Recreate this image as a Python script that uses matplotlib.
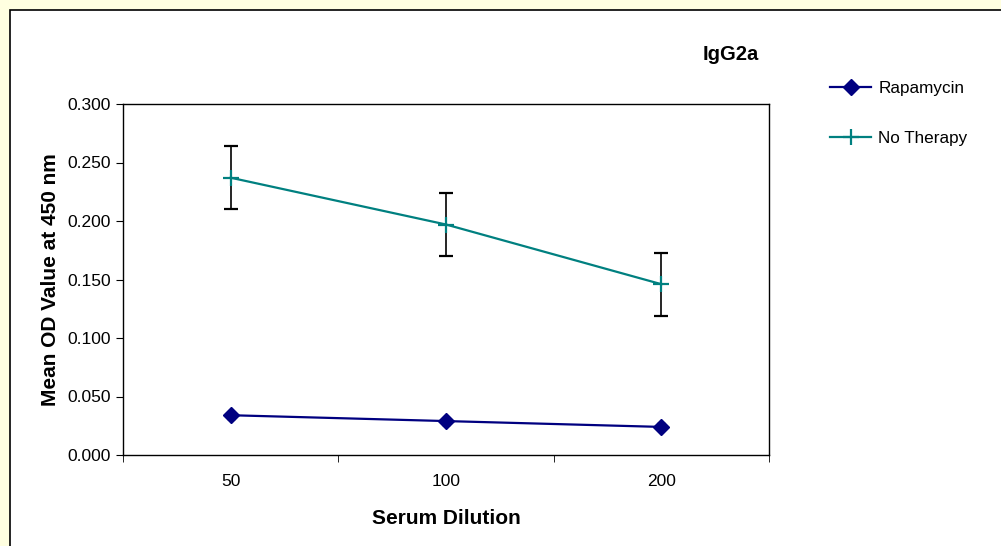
import numpy as np
import matplotlib
matplotlib.use("Agg")
import matplotlib.pyplot as plt
from matplotlib.patches import Rectangle

plt.rcParams['font.family'] = ['Liberation Sans', 'DejaVu Sans']

# data
dilutions = ['50', '100', '200']
rapamycin = [0.034, 0.029, 0.024]
rapamycin_err = [0.003, 0.003, 0.003]
no_therapy = [0.237, 0.197, 0.146]
no_therapy_err = [0.027, 0.027, 0.027]

fig = plt.figure(figsize=(10.01, 5.46), dpi=100)
fig.patch.set_facecolor('#FFFFE0')

# white chart area with black border
bg = Rectangle((10 / 1001, -0.1), 1.1, 1.1 - 10 / 546, transform=fig.transFigure,
               facecolor='white', edgecolor='black', linewidth=1.2, zorder=-5)
fig.patches.append(bg)

ax = fig.add_axes([123 / 1001, 1 - 455 / 546, 646 / 1001, 351 / 546])
ax.set_facecolor('white')
x = np.arange(len(dilutions))

ax.errorbar(x, rapamycin, yerr=rapamycin_err, color='#000080', marker='D',
            markersize=8.5, linewidth=1.6, ecolor='black', elinewidth=1.2,
            capsize=3, label='Rapamycin', zorder=3)
ax.errorbar(x, no_therapy, yerr=no_therapy_err, color='#008080', marker='+',
            markersize=11, markeredgewidth=1.6, linewidth=1.6, ecolor='black',
            elinewidth=1.2, capsize=5, label='No Therapy', zorder=3)

ax.set_xlim(-0.5, 2.5)
ax.set_ylim(0, 0.3)
ax.set_yticks(np.arange(0, 0.301, 0.05))
ax.set_yticklabels(['%.3f' % v for v in np.arange(0, 0.301, 0.05)])
ax.set_xticks(x)
ax.set_xticklabels(dilutions)
ax.set_xticks([-0.5, 0.5, 1.5, 2.5], minor=True)
ax.tick_params(axis='x', which='major', length=0, pad=14, labelsize=12.5)
ax.tick_params(axis='x', which='minor', length=5, direction='out')
ax.tick_params(axis='y', length=5, direction='out', labelsize=12.5, pad=4)
for s in ax.spines.values():
    s.set_linewidth(1.0)

ax.set_xlabel('Serum Dilution', fontsize=15, fontweight='bold', labelpad=14)
ax.set_ylabel('Mean OD Value at 450 nm', fontsize=15, fontweight='bold', labelpad=5)
fig.text(731 / 1001, 1 - 55 / 546, 'IgG2a', fontsize=14.5, fontweight='bold',
         ha='center', va='center')

handles, labels = ax.get_legend_handles_labels()
handles = [h[0] for h in handles]
fig.legend(handles, labels, loc='upper left', bbox_to_anchor=(815 / 1001, 1 - 66 / 546),
           frameon=False, fontsize=12.3, labelspacing=2.0, handlelength=2.4,
           handletextpad=0.4)

fig.savefig('out.png', dpi=100, facecolor=fig.get_facecolor())
